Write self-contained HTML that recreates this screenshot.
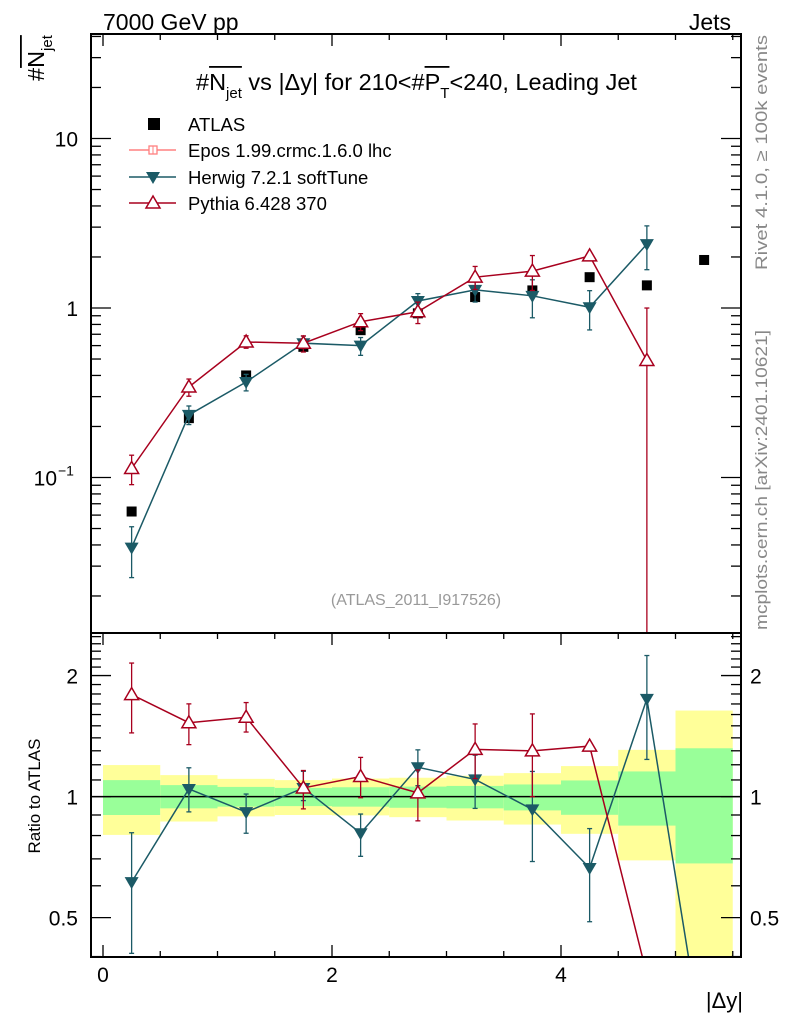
<!DOCTYPE html>
<html><head><meta charset="utf-8"><style>
html,body{margin:0;padding:0;background:#fff;overflow:hidden;width:786px;height:1024px;}
svg{display:block;font-family:"Liberation Sans",Arial,sans-serif;}
</style></head><body>
<svg id="c" width="786" height="1024" viewBox="0 0 786 1024" xmlns="http://www.w3.org/2000/svg">
<defs>
<clipPath id="cm"><rect x="91" y="34" width="650" height="599"/></clipPath>
<clipPath id="cr"><rect x="91" y="633" width="650" height="324"/></clipPath>
</defs>
<g id="bands" clip-path="url(#cr)"></g>
<g id="ratio" clip-path="url(#cr)"></g>
<g id="main" clip-path="url(#cm)"></g>
<g id="axes"></g>
<text x="103" y="30" font-size="23">7000 GeV pp</text>
<text x="731" y="30" font-size="23" text-anchor="end">Jets</text>
<g id="title">
<text id="tt" x="196" y="90" font-size="23.5">#N<tspan dy="8" font-size="15">jet</tspan><tspan dy="-8"> vs |Δy| for 210&lt;#P</tspan><tspan dy="8" font-size="15">T</tspan><tspan dy="-8">&lt;240, Leading Jet</tspan></text>
</g>
<g id="ytitle" transform="translate(44,81) rotate(-90)">
<text id="yt" x="0" y="0" font-size="23.5">#N<tspan dy="8" font-size="15">jet</tspan></text>
</g>
<text transform="translate(40,796) rotate(-90)" font-size="17" text-anchor="middle">Ratio to ATLAS</text>
<text x="743" y="1008" font-size="22" text-anchor="end">|Δy|</text>
<text transform="translate(767,270) rotate(-90)" font-size="17" fill="#888" textLength="235" lengthAdjust="spacingAndGlyphs">Rivet 4.1.0, ≥ 100k events</text>
<text transform="translate(767,630) rotate(-90)" font-size="17" fill="#888" textLength="300" lengthAdjust="spacingAndGlyphs">mcplots.cern.ch [arXiv:2401.10621]</text>
<text x="416" y="605" font-size="16" fill="#999" text-anchor="middle">(ATLAS_2011_I917526)</text>
<g id="legend"></g>
</svg>
<script>
const xCenters=[0.25,0.75,1.25,1.75,2.25,2.75,3.25,3.75,4.25,4.75,5.25];
const atlas=[0.063,0.224,0.40,0.59,0.74,0.93,1.16,1.27,1.52,1.36,1.92];
const bandYelUp=[1.198,1.131,1.107,1.099,1.109,1.114,1.127,1.144,1.191,1.307,1.637];
const bandYelDn=[0.803,0.867,0.893,0.900,0.898,0.889,0.872,0.852,0.808,0.694,0.30];
const bandGrnUp=[1.099,1.068,1.057,1.051,1.055,1.059,1.063,1.072,1.097,1.155,1.319];
const bandGrnDn=[0.900,0.935,0.944,0.947,0.944,0.938,0.935,0.924,0.901,0.847,0.682];
const herwig=[0.0386,0.234,0.366,0.62,0.60,1.10,1.28,1.18,1.01,2.38,0.44];
const herwigUp=[1.327,1.129,1.109,1.10,1.116,1.105,1.149,1.243,1.253,1.282,1];
const herwigDn=[0.665,0.877,0.886,0.93,0.876,0.90,0.847,0.742,0.735,0.707,1];
const pythia=[0.113,0.342,0.63,0.62,0.83,0.95,1.52,1.65,2.03,0.49];
const pythiaUp=[1.198,1.114,1.088,1.105,1.116,1.14,1.157,1.236,1.02,2.04];
const pythiaDn=[0.803,0.882,0.919,0.887,0.886,0.852,0.846,0.769,0.98,0.001];
const xTicks=[0,2,4];
const ratioTicks=[0.5,1,2];

const NS="http://www.w3.org/2000/svg";
const X=v=>103+v*114.5;
const Y=v=>308-Math.log10(v)*169.5;
const R=v=>796.6-Math.log10(v)*402;
function mk(p,tag,at){const e=document.createElementNS(NS,tag);for(const k in at)e.setAttribute(k,at[k]);p.appendChild(e);return e;}
const axes=document.getElementById('axes'),mainG=document.getElementById('main'),ratioG=document.getElementById('ratio'),bands=document.getElementById('bands'),leg=document.getElementById('legend');
const HW='#1b5a66',PY='#a8001e';

// overlines
function overline(textId,groupId,i0,i1,yy){
 const t=document.getElementById(textId);
 try{const a=t.getExtentOfChar(i0),b=t.getExtentOfChar(i1);
  mk(document.getElementById(groupId),'rect',{x:a.x,y:yy,width:b.x+b.width-a.x,height:1.8,fill:'#000'});}catch(e){}
}
// title: "#Njet vs |Δy| for 210<#PT<240..." ; N idx1, "jet" 2-4, P idx 23, T idx 24
const tstr=document.getElementById('tt').textContent;
const pIdx=tstr.indexOf('#P')+1;
overline('tt','title',1,4,66);
overline('tt','title',pIdx,pIdx+1,66);
overline('yt','ytitle',1,4,-24);

// bands
xCenters.forEach((c,i)=>{
 const x0=X(c-0.25),w=X(c+0.25)-x0;
 let r=mk(bands,'rect',{x:x0,y:R(bandYelUp[i]),width:w,height:R(bandYelDn[i])-R(bandYelUp[i]),fill:'#ffff99'});
 
 r=mk(bands,'rect',{x:x0,y:R(bandGrnUp[i]),width:w,height:R(bandGrnDn[i])-R(bandGrnUp[i]),fill:'#99ff99'});
 
});
let l1=mk(ratioG,'line',{x1:91,x2:741,y1:R(1),y2:R(1),stroke:'#000','stroke-width':1.5});


function errbar(g,x,y1,y2,col){mk(g,'line',{x1:x,x2:x,y1:y1,y2:y2,stroke:col,'stroke-width':1.3});
 mk(g,'line',{x1:x-2.5,x2:x+2.5,y1:y1,y2:y1,stroke:col,'stroke-width':1.3});mk(g,'line',{x1:x-2.5,x2:x+2.5,y1:y2,y2:y2,stroke:col,'stroke-width':1.3});}
function tri(g,x,y,col,down){const s=7;
 if(down)return mk(g,'path',{d:`M${x-s},${y-5}L${x+s},${y-5}L${x},${y+7}Z`,fill:col});
 return mk(g,'path',{d:`M${x-s},${y+5}L${x+s},${y+5}L${x},${y-7}Z`,fill:'#fff',stroke:col,'stroke-width':1.5});}

// ATLAS main
xCenters.forEach((c,i)=>{
 const g=mk(mainG,'g',{});
 
 const x=X(c);
 mk(g,'rect',{x:x-5,y:Y(atlas[i])-5,width:10,height:10,fill:'#000'});
});
function series(vals,up,dn,col,down,name,nMain){
 const n=Math.min(vals.length,nMain);
 let pts=[];for(let i=0;i<n;i++)pts.push(X(xCenters[i])+','+Y(vals[i]));
 let pl=mk(mainG,'polyline',{points:pts.join(' '),fill:'none',stroke:col,'stroke-width':1.5});
 
 for(let i=0;i<n;i++){const g=mk(mainG,'g',{});
  
  const x=X(xCenters[i]);errbar(g,x,Y(vals[i]*up[i]),Y(vals[i]*dn[i]),col);tri(g,x,Y(vals[i]),col,down);}
 let rp=[];vals.forEach((v,i)=>rp.push(X(xCenters[i])+','+R(v/atlas[i])));
 pl=mk(ratioG,'polyline',{points:rp.join(' '),fill:'none',stroke:col,'stroke-width':1.5});
 
 for(let i=0;i<n;i++){const r=vals[i]/atlas[i];if(r<0.4)continue;
  const g=mk(ratioG,'g',{});
  
  const x=X(xCenters[i]);errbar(g,x,R(r*up[i]),R(r*dn[i]),col);tri(g,x,R(r),col,down);}
}
series(herwig,herwigUp,herwigDn,HW,true,'herwig',10);
series(pythia,pythiaUp,pythiaDn,PY,false,'pythia',10);

// frames
[[34,633],[633,957]].forEach(([t,b])=>{let f=mk(axes,'rect',{x:91,y:t,width:650,height:b-t,fill:'none',stroke:'#000','stroke-width':2});
 });
// x ticks
for(let v=0;v<=5.5;v+=0.5){const x=X(v),L=(v%2===0)?12:6;
 [[34,1],[633,1],[957,-1]].forEach(([y,s])=>{mk(axes,'line',{x1:x,x2:x,y1:y,y2:y+s*L,stroke:'#000','stroke-width':1.3});});}
xTicks.forEach(v=>{const t=mk(axes,'text',{x:X(v),y:982,'font-size':21,'text-anchor':'middle'});t.textContent=v;
 });
// main y ticks
for(let d=-2;d<=1;d++)for(let m=1;m<=9;m++){const v=m*Math.pow(10,d),y=Y(v);if(y<34||y>633)continue;const L=m===1?20:10;
 mk(axes,'line',{x1:91,x2:91+L,y1:y,y2:y,stroke:'#000','stroke-width':1.3});mk(axes,'line',{x1:741,x2:741-L,y1:y,y2:y,stroke:'#000','stroke-width':1.3});}
[['10',10],['1',1]].forEach(([s,v])=>{const t=mk(axes,'text',{x:78,y:Y(v)+8,'font-size':21,'text-anchor':'end'});t.textContent=s;
 });
let tm=mk(axes,'text',{x:57,y:Y(0.1)+8,'font-size':21,'text-anchor':'end'});tm.textContent='10';

tm=mk(axes,'text',{x:58,y:Y(0.1)-2,'font-size':14});tm.textContent='−1';
// ratio y ticks
for(let k=4;k<=25;k++){const v=k/10,y=R(v);if(y<633||y>957)continue;const L=(k===5||k===10||k===20)?20:10;
 mk(axes,'line',{x1:91,x2:91+L,y1:y,y2:y,stroke:'#000','stroke-width':1.3});mk(axes,'line',{x1:741,x2:741-L,y1:y,y2:y,stroke:'#000','stroke-width':1.3});}
ratioTicks.forEach(v=>{[[78,'end'],[750,'start']].forEach(([x,a])=>{const t=mk(axes,'text',{x:x,y:R(v)+8,'font-size':21,'text-anchor':a});t.textContent=v;
 });});

// legend
const legNames=['ATLAS','Epos 1.99.crmc.1.6.0 lhc','Herwig 7.2.1 softTune','Pythia 6.428 370'];
const legY=[124,150,177,203];
legNames.forEach((n,i)=>{const g=mk(leg,'g',{});
 
 const y=legY[i];
 if(i===0)mk(g,'rect',{x:148,y:y-6,width:12,height:12,fill:'#000'});
 else{const col=[null,'#ff8080',HW,PY][i];mk(g,'line',{x1:129,x2:176,y1:y,y2:y,stroke:col,'stroke-width':1.5});
  if(i===1){mk(g,'rect',{x:149,y:y-4,width:8,height:8,fill:'#fff',stroke:col,'stroke-width':1.3});mk(g,'line',{x1:153,x2:153,y1:y-4,y2:y+4,stroke:col});}
  else tri(g,153,y,col,i===2);}
 const t=mk(g,'text',{x:188,y:y+7,'font-size':18.5});t.textContent=n;});
</script>
</body></html>
